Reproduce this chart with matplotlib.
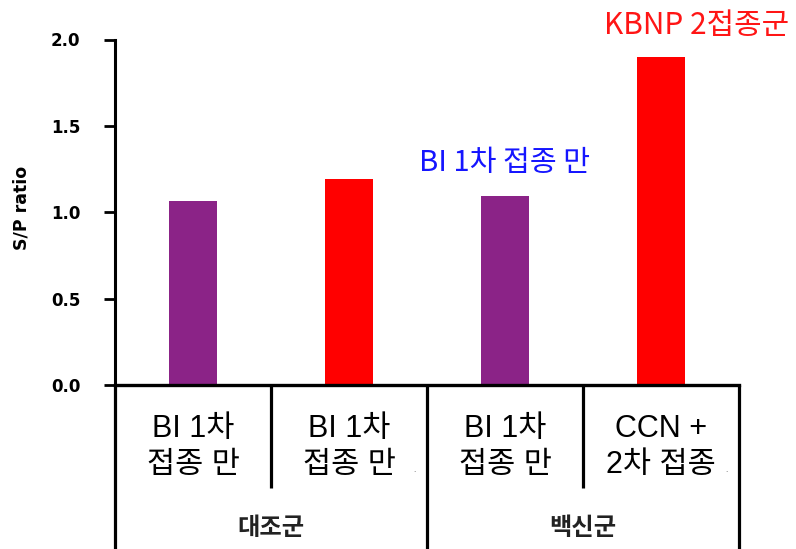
import matplotlib
matplotlib.use("Agg")
import matplotlib.pyplot as plt
import numpy as np

# ---- data ----
categories = ["BI 1차\n접종 만", "BI 1차\n접종 만", "BI 1차\n접종 만", "CCN +\n2차 접종"]
values = [1.067, 1.19, 1.095, 1.90]
bar_colors = ["#8B2387", "#FF0000", "#8B2387", "#FF0000"]
groups = ["대조군", "백신군"]
group_members = [(0, 1), (2, 3)]
yticks = [0.0, 0.5, 1.0, 1.5, 2.0]
ylabel = "S/P ratio"
note_blue = "BI 1차 접종 만"
note_red = "KBNP 2접종군"

plt.rcParams['font.family'] = ['Liberation Sans', 'Noto Sans CJK KR', 'DejaVu Sans']

W, H = 796, 549
fig = plt.figure(figsize=(W / 100, H / 100), dpi=100)
ax_left, ax_right = 115, 739
ax_top, ax_bottom = 39.5, 385
ax = fig.add_axes([ax_left / W, 1 - ax_bottom / H, (ax_right - ax_left) / W, (ax_bottom - ax_top) / H])

x = np.arange(len(categories))
ax.bar(x, values, width=0.31, color=bar_colors, zorder=2)

ax.set_xlim(-0.5, len(categories) - 0.5)
ax.set_ylim(0, 2.0)
ax.set_yticks(yticks)
ax.set_yticklabels([f"{v:.1f}" for v in yticks], family=['DejaVu Sans'],
                   fontweight='bold', fontsize=12)
ax.tick_params(axis='y', length=8, width=2, pad=17, direction='out')
ax.set_xticks([])

for s in ['top', 'right']:
    ax.spines[s].set_visible(False)
ax.spines['left'].set_linewidth(2.2)
ax.spines['bottom'].set_linewidth(2.4)

ax.set_ylabel(ylabel, family=['DejaVu Sans'], fontweight='bold', fontsize=12.5)
ax.yaxis.label.set_va('center')
ax.yaxis.set_label_coords((22 - ax_left) / (ax_right - ax_left), 0.5 - (208 - (ax_top + ax_bottom) / 2) / (ax_bottom - ax_top))

trans = ax.get_xaxis_transform()
axh = ax_bottom - ax_top
def ypx(p):
    return (ax_bottom - p) / axh

# category labels
for xi, lab in zip(x, categories):
    ax.text(xi, ypx(447), lab, transform=trans, ha='center', va='center',
            fontsize=22, linespacing=1.28, color='black', clip_on=False)

# dividers
edges = np.arange(len(categories) + 1) - 0.5
major = {edges[0], edges[-1]} | {g[1] + 0.5 for g in group_members}
for e in edges:
    if e in major:
        ax.plot([e, e], [0, ypx(H + 2)], transform=trans, color='black', lw=2.3, clip_on=False,
                solid_capstyle='butt')
    else:
        ax.plot([e, e], [0, ypx(488)], transform=trans, color='black', lw=2.3, clip_on=False,
                solid_capstyle='butt')

# group labels
for g, (a, b) in zip(groups, group_members):
    ax.text((a + b) / 2, ypx(528), g, transform=trans, ha='center', va='center',
            fontsize=17.5, fontweight='bold', family=['Noto Sans CJK KR'], color='#222222', clip_on=False)

# tiny artifact dots
for xi in (1, 3):
    ax.text(xi + 0.42, ypx(471), ".", transform=trans, ha='center', va='center', fontsize=6,
            color='#555555', clip_on=False)

# annotations
ax.text(2, ypx(163), note_blue, transform=trans, ha='center', va='center', fontsize=21,
        family=['Noto Sans CJK KR'], color='#1515FF', clip_on=False)
ax.text(3.23, ypx(25), note_red, transform=trans, ha='center', va='center', fontsize=21.5,
        family=['Noto Sans CJK KR'], color='#FF1515', clip_on=False)

fig.savefig("out.png", dpi=100)
